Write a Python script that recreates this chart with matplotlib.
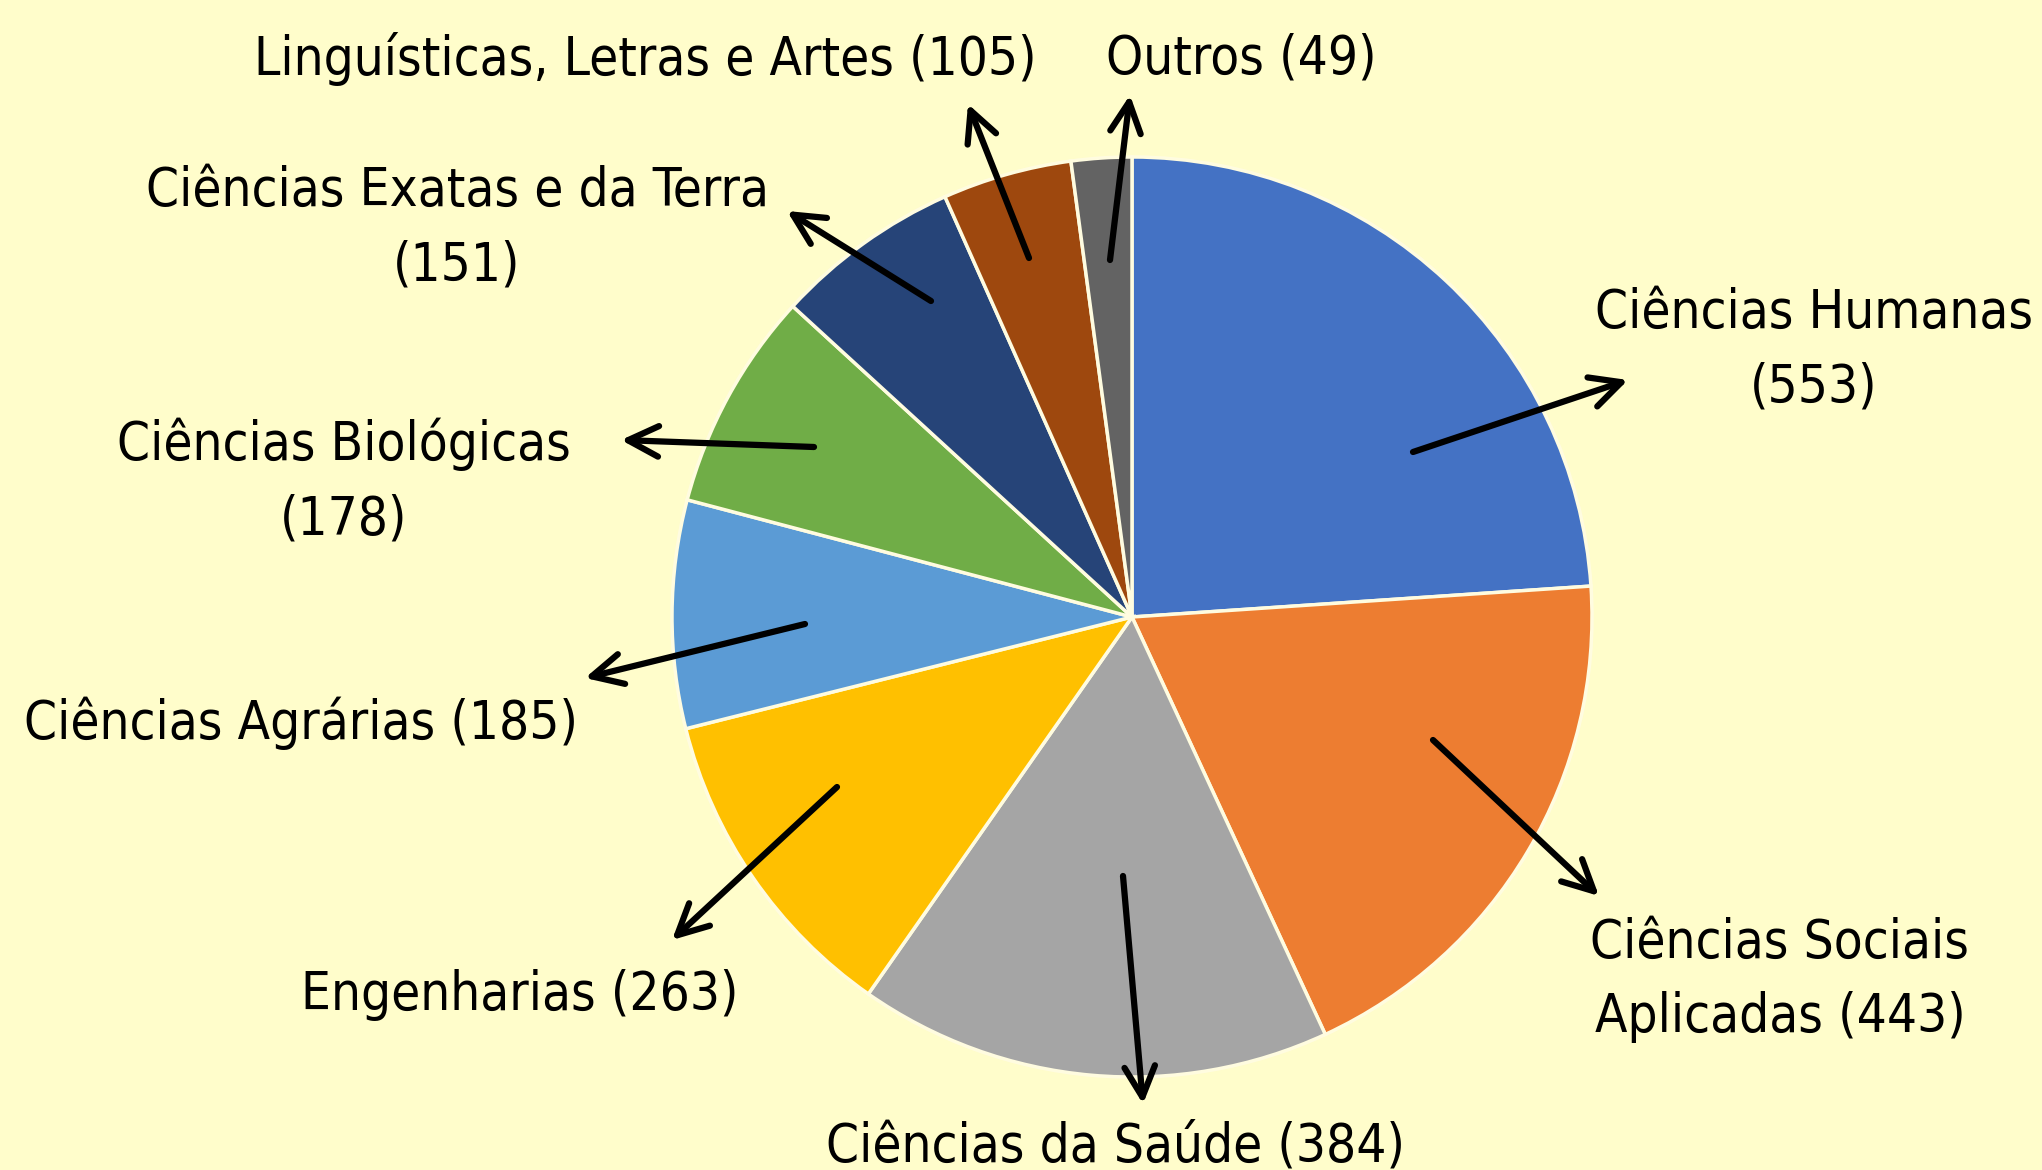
import matplotlib.pyplot as plt

# Data
labels = ["Ciências Humanas\n(553)", "Ciências Sociais\nAplicadas (443)", "Ciências da Saúde (384)",
          "Engenharias (263)", "Ciências Agrárias (185)", "Ciências Biológicas\n(178)",
          "Ciências Exatas e da Terra\n(151)", "Linguísticas, Letras e Artes (105)", "Outros (49)"]
values = [553, 443, 384, 263, 185, 178, 151, 105, 49]
colors = ["#4472C4", "#ED7D31", "#A5A5A5", "#FFC000", "#5B9BD5",
          "#70AD47", "#264478", "#9E480E", "#636363"]

# label centre and arrow tail/head, in pixels from the top-left corner
label_pos = [(1814, 350), (1780, 980), (1116, 1146), (520, 995), (301, 723),
             (344, 482), (457, 228), (645, 59), (1241, 59)]
arrow_tail = [(1413, 452), (1433, 740), (1123, 876), (837, 787), (805, 624),
              (814, 447), (931, 301), (1029, 258), (1110, 260)]
arrow_head = [(1628, 380), (1599, 896), (1143, 1104), (672, 940), (585, 678),
              (621, 440), (787, 211), (968, 104), (1130, 95)]

W, H = 2042, 1170
bg = "#FFFDCB"

fig = plt.figure(figsize=(W / 100, H / 100), dpi=100, facecolor=bg)
ax = fig.add_axes([0, 0, 1, 1])
ax.set_facecolor(bg)

ax.pie(values, colors=colors, startangle=90, counterclock=False,
       center=(1132, H - 617), radius=460, frame=True,
       wedgeprops=dict(edgecolor="#FFFCE0", linewidth=2.5))
ax.set_xlim(0, W)
ax.set_ylim(0, H)
ax.set_aspect("equal")
ax.axis("off")

for lab, (lx, ly), (tx, ty), (hx, hy) in zip(labels, label_pos, arrow_tail, arrow_head):
    ax.annotate("", xy=(hx, H - hy), xytext=(tx, H - ty),
                arrowprops=dict(arrowstyle="->", lw=4.5, color="black",
                                mutation_scale=55, shrinkA=0, shrinkB=0))
    ax.text(lx, H - ly, lab, ha="center", va="center", fontsize=38,
            family="DejaVu Sans", fontstretch="condensed", linespacing=1.55,
            multialignment="center")

fig.savefig("out.png", dpi=100, facecolor=bg)
